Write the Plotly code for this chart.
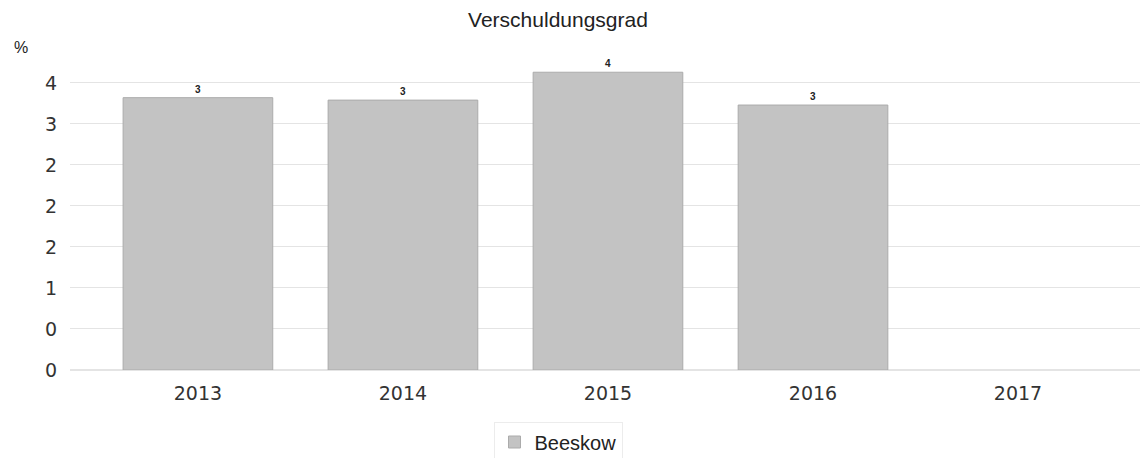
import plotly.graph_objects as go

# Debt ratio (Verschuldungsgrad) per year for Beeskow
years = ["2013", "2014", "2015", "2016", "2017"]
beeskow = [3.32, 3.29, 3.63, 3.23, None]

# y ticks every 0.5, labels rounded to whole numbers (half-to-even)
tick_vals = [0, 0.5, 1, 1.5, 2, 2.5, 3, 3.5]
tick_text = ["0", "0", "1", "2", "2", "2", "3", "4"]

fig = go.Figure()
fig.add_trace(go.Bar(
    x=years,
    y=beeskow,
    name="Beeskow",
    marker=dict(color="#c3c3c3", line=dict(color="#ababab", width=1)),
    width=0.73,
    texttemplate="%{y:.0f}",
    textposition="outside",
    textfont=dict(family="Liberation Sans, Arial", size=10, color="#222222",
                  weight="bold"),
    cliponaxis=False,
    showlegend=True,
))

fig.update_layout(
    width=1143,
    height=458,
    margin=dict(l=70, r=3, t=55, b=88, autoexpand=False),
    paper_bgcolor="white",
    plot_bgcolor="white",
    title=dict(
        text="Verschuldungsgrad",
        x=558 / 1143, xanchor="center", xref="container",
        y=1 - 20 / 458, yanchor="middle", yref="container",
        font=dict(family="Liberation Sans, Arial", size=21, color="#222222"),
    ),
    xaxis=dict(
        type="category",
        range=[-0.624, 4.595],
        showgrid=False,
        showline=False,
        ticks="",
        automargin=False,
        ticklabelstandoff=10,
        tickfont=dict(family="DejaVu Sans, Verdana", size=19, color="#333333"),
    ),
    yaxis=dict(
        range=[0, 3.84],
        tickvals=tick_vals,
        ticktext=tick_text,
        showgrid=True,
        gridcolor="#e4e4e4",
        gridwidth=1,
        zeroline=True,
        zerolinecolor="#e4e4e4",
        showline=False,
        ticks="",
        automargin=False,
        ticklabelstandoff=12,
        tickfont=dict(family="DejaVu Sans, Verdana", size=19, color="#333333"),
    ),
    legend=dict(
        orientation="h",
        x=558 / 1143, xanchor="center", xref="container",
        y=(458 - 442) / 458, yanchor="middle", yref="container",
        bordercolor="#ececec",
        borderwidth=1,
        itemwidth=30,
        font=dict(family="Liberation Sans, Arial", size=20, color="#222222"),
    ),
    annotations=[dict(
        text="%",
        xref="paper", yref="paper",
        x=-0.046, y=1 + 8 / 315,
        xanchor="center", yanchor="middle",
        showarrow=False,
        font=dict(family="Liberation Sans, Arial", size=16, color="#222222"),
    )],
)

fig.write_html("out.html")
